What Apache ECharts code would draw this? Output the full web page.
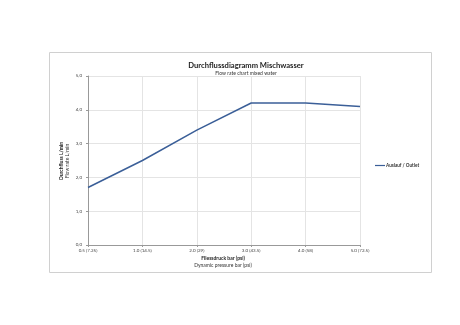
<!DOCTYPE html>
<html><head><meta charset="utf-8">
<script src="https://cdn.jsdelivr.net/npm/echarts@6/dist/echarts.min.js"></script>
<style>html,body{margin:0;padding:0;background:#fff}#c{width:460px;height:325px}</style>
</head><body><div id="c"></div>
<script>
const categories = ['0.5 (7.25)', '1.0 (14.5)', '2.0 (29)', '3.0 (43.5)', '4.0 (58)', '5.0 (72.5)'];
const outletValues = [1.7, 2.5, 3.4, 4.2, 4.2, 4.1];
const seriesName = 'Auslauf / Outlet';
const titleMain = 'Durchflussdiagramm Mischwasser';
const titleSub = 'Flow rate chart mixed water';
const yTitle1 = 'Durchfluss L/min';
const yTitle2 = 'Flow rate L/min';
const xTitle1 = 'Fliessdruck bar (psi)';
const xTitle2 = 'Dynamic pressure bar (psi)';

const F = 'Lato, "Open Sans", sans-serif';
const chart = echarts.init(document.getElementById('c'), null, {renderer: 'canvas'});
chart.setOption({
  animation: false,
  backgroundColor: '#fff',
  title: {
    text: titleMain, subtext: titleSub, left: 241, top: 57, textAlign: 'center', itemGap: 1,
    textStyle: {fontFamily: F, fontSize: 7.6, fontWeight: 'bold', color: '#222'},
    subtextStyle: {fontFamily: F, fontSize: 5, color: '#333'}
  },
  legend: {
    left: 370, top: 158, itemWidth: 10, itemHeight: 1.2, itemGap: 2,
    icon: 'rect',
    textStyle: {fontFamily: F, fontSize: 4.6, fontWeight: 'bold', color: '#333', padding: [0,0,0,-4]},
    data: [seriesName]
  },
  grid: {left: 88, right: 100, top: 76, bottom: 80},
  xAxis: {
    type: 'category', data: categories, boundaryGap: false,
    axisLine: {lineStyle: {color: '#999', width: 1}},
    axisTick: {show: true, length: 2, lineStyle: {color: '#999'}},
    axisLabel: {fontFamily: F, fontSize: 4.5, color: '#444', margin: 3},
    splitLine: {show: true, lineStyle: {color: '#e4e4e4', width: 1}}
  },
  yAxis: {
    type: 'value', min: 0, max: 5, interval: 1,
    axisLine: {show: true, lineStyle: {color: '#999', width: 1}},
    axisTick: {show: true, length: 2, lineStyle: {color: '#999'}},
    axisLabel: {fontFamily: F, fontSize: 4.5, color: '#444', margin: 6,
      formatter: v => v.toFixed(1).replace('.', ',')},
    splitLine: {show: true, lineStyle: {color: '#e4e4e4', width: 1}}
  },
  series: [{
    name: seriesName, type: 'line', data: outletValues, symbol: 'none',
    lineStyle: {color: '#3b5f98', width: 1.5}, itemStyle: {color: '#3b5f98'}
  }],
  graphic: [
    {type: 'rect', shape: {x: 49.5, y: 52.5, width: 382, height: 220}, style: {fill: null, stroke: '#d0d0d0', lineWidth: 1}, z: -1},
    {type: 'text', x: 223, y: 256, style: {text: xTitle1, fontFamily: F, fontSize: 5, fontWeight: 'bold', fill: '#222', textAlign: 'center'}},
    {type: 'text', x: 223, y: 262.5, style: {text: xTitle2, fontFamily: F, fontSize: 5, fill: '#333', textAlign: 'center'}},
    {type: 'text', x: 61, y: 161, rotation: Math.PI/2, style: {text: yTitle1, fontFamily: F, fontSize: 5, fontWeight: 'bold', fill: '#222', textAlign: 'center', textVerticalAlign: 'middle'}},
    {type: 'text', x: 67.5, y: 161, rotation: Math.PI/2, style: {text: yTitle2, fontFamily: F, fontSize: 5, fill: '#333', textAlign: 'center', textVerticalAlign: 'middle'}}
  ]
});
</script></body></html>
